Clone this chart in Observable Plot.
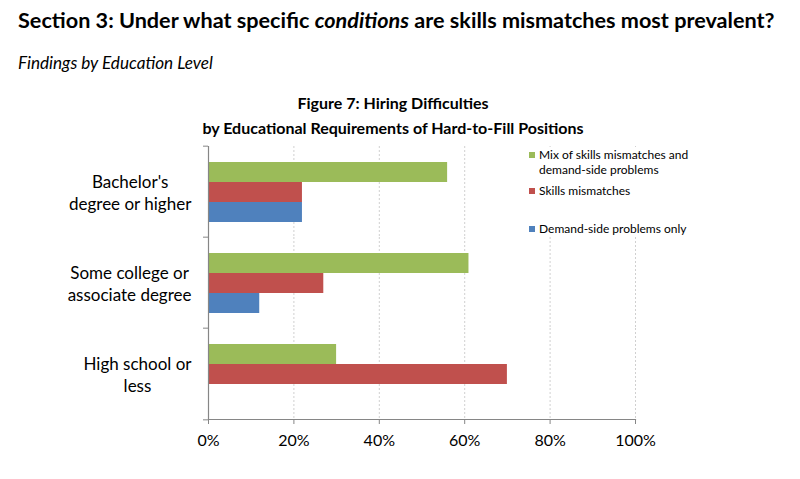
<!DOCTYPE html>
<html><head><meta charset="utf-8">
<script src="https://cdn.jsdelivr.net/npm/d3@7"></script>
<script src="https://cdn.jsdelivr.net/npm/@observablehq/plot@0.6"></script>
<style>
body{margin:0;background:#fff;font-family:Lato, sans-serif;}
#wrap{position:relative;width:800px;height:479px;overflow:hidden;background:#fff;}
.t{position:absolute;white-space:nowrap;color:#000;}
#legend{position:absolute;left:525px;top:147px;width:165px;height:90px;background:#fff;font-size:12px;color:#000;z-index:2;}
.li{position:absolute;left:14px;line-height:15px;white-space:nowrap;}
.sw{position:absolute;left:-10px;top:5px;width:6px;height:6px;}
</style></head><body>
<div id="wrap">
 <div class="t" id="h1" style="left:18px;top:7px;font-weight:bold;font-size:20px">Section 3: Under what specific <i>conditions</i> are skills mismatches most prevalent?</div>
 <div class="t" id="h2" style="left:18px;top:52px;font-style:italic;font-size:16px">Findings by Education Level</div>
 <div class="t" id="ft" style="left:0;width:786px;text-align:center;top:90px;font-weight:bold;font-size:16px;line-height:25px"><span id="ft1">Figure 7: Hiring Difficulties</span><br><span id="ft2">by Educational Requirements of Hard-to-Fill Positions</span></div>
 <div id="chart" style="position:absolute;left:0;top:135px"></div>
 <div id="legend"></div>
</div>
<script>
const categories = ["Bachelor's degree or higher", "Some college or associate degree", "High school or less"];
const categoryLabels = ["Bachelor's\ndegree or higher", "Some college or\nassociate degree", "High school or\nless"];
const series = ["Mix of skills mismatches and demand-side problems", "Skills mismatches", "Demand-side problems only"];
const legendLabels = ["Mix of skills mismatches and\ndemand-side problems", "Skills mismatches", "Demand-side problems only"];
const mixValues = [0.56, 0.61, 0.30];
const skillsValues = [0.22, 0.27, 0.70];
const demandValues = [0.22, 0.12, 0];
const xTicks = [0, 0.2, 0.4, 0.6, 0.8, 1.0];
const colors = ["#9BBB59", "#C0504D", "#4F81BD"];

const valuesBySeries = [mixValues, skillsValues, demandValues];
const rows = series.flatMap((s, si) => categories.map((c, ci) => ({cat: c, series: s, value: valuesBySeries[si][ci]})));

const canvas = document.createElement("canvas");
const ctx = canvas.getContext("2d");
function fit(el, target) {
  const cs = getComputedStyle(el);
  const w = el.getBoundingClientRect().width;
  const fs = parseFloat(cs.fontSize);
  el.style.fontSize = (fs * target / w) + "px";
}
fit(document.getElementById("h1"), 757);
fit(document.getElementById("h2"), 195);

const W = 800, H = 344, mT = 10, mB = 59, mL = 208, mR = 165;
const step = (H - mT - mB) / categories.length;
const labelFont = 17;
ctx.font = `${labelFont}px Lato`;
const labelRight = 191;
const labelMarks = categories.map((c, i) => {
  const maxW = d3.max(categoryLabels[i].split("\n"), l => ctx.measureText(l).width);
  return Plot.text([c], {fy: d => d, text: () => categoryLabels[i], frameAnchor: "left", textAnchor: "middle",
    dx: labelRight - maxW / 2 - mL, dy: 0, lineHeight: 1.3, fontSize: labelFont, fill: "#000"});
});

const chart = Plot.plot({
  width: W, height: H, marginTop: mT, marginBottom: mB, marginLeft: mL, marginRight: mR,
  style: {fontFamily: "Lato, sans-serif", fontSize: "16px", color: "#000", background: "transparent"},
  x: {domain: [0, 1], axis: null},
  y: {domain: series, paddingInner: 0, paddingOuter: 0.718, axis: null},
  fy: {domain: categories, padding: 0, axis: null},
  color: {domain: series, range: colors},
  marks: [
    Plot.gridX(xTicks.slice(1), {stroke: "#d0d0d0", strokeOpacity: 1, strokeDasharray: "2,2"}),
    Plot.barX(rows, {x: "value", y: "series", fy: "cat", fill: "series"}),
    Plot.ruleX([0], {stroke: "#868686", strokeWidth: 1.2}),
    Plot.frame({anchor: "bottom", facetAnchor: "bottom", stroke: "#868686", strokeWidth: 1.2}),
    Plot.axisX({ticks: xTicks, tickFormat: d3.format(".0%"), tickSize: 5, tickPadding: 10, stroke: "#868686", fill: "#000", fontSize: 16, anchor: "bottom", label: null}),
    Plot.axisFy({anchor: "left", tickSize: 5, tickFormat: () => "", dy: -step / 2, stroke: "#868686", label: null}),
    Plot.axisFy({anchor: "left", ticks: categories.slice(-1), tickSize: 5, tickFormat: () => "", dy: step / 2, stroke: "#868686", label: null}),
    ...labelMarks
  ]
});
document.getElementById("chart").appendChild(chart);

const legend = document.getElementById("legend");
const tops = [0, 36, 74];
series.forEach((s, i) => {
  const d = document.createElement("div");
  d.className = "li";
  d.style.top = tops[i] + "px";
  const sw = document.createElement("span");
  sw.className = "sw";
  sw.style.background = colors[i];
  d.appendChild(sw);
  legendLabels[i].split("\n").forEach((l, j) => {
    if (j) d.appendChild(document.createElement("br"));
    d.appendChild(document.createTextNode(l));
  });
  legend.appendChild(d);
});
</script>
</body></html>
